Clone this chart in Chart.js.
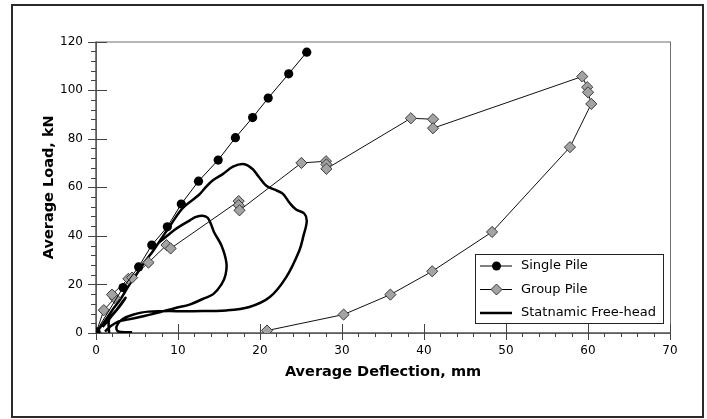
<!DOCTYPE html>
<html>
<head>
<meta charset="utf-8">
<script src="https://cdn.jsdelivr.net/npm/chart.js@4.4.1/dist/chart.umd.min.js"></script>
<style>
  html, body { margin: 0; padding: 0; background: #fff; }
</style>
</head>
<body>
<canvas id="chart" width="707" height="419"></canvas>
<script>
// ── Data ─────────────────────────────────────────────────────
const xTicks = [0, 10, 20, 30, 40, 50, 60, 70];
const yTicks = [0, 20, 40, 60, 80, 100, 120];

const singleX = [0, 3.3, 5.2, 6.8, 8.7, 10.4, 12.5, 14.9, 17.0, 19.1, 21.0, 23.5, 25.7];
const singleY = [0.5, 18.7, 27.2, 36.2, 43.7, 53.1, 62.5, 71.2, 80.4, 88.7, 96.7, 106.7, 115.6];

const groupX = [0, 0.95, 2.3, 1.95, 3.95, 4.4, 6.4, 8.6, 9.1, 17.4, 17.4, 17.5, 25.05, 28.05, 28.1, 28.1,
                38.4, 41.1, 41.1, 59.3, 59.9, 60.0, 60.4, 57.8, 48.3, 41.0, 35.9, 30.2, 20.85];
const groupY = [0, 9.4, 14.4, 15.8, 22.3, 22.8, 29.0, 36.2, 34.8, 54.3, 52.6, 50.5, 70.0, 70.7, 69.4, 67.6,
                88.4, 88.0, 84.3, 105.6, 101.2, 99.1, 94.3, 76.5, 41.6, 25.4, 15.8, 7.6, 1.0];

// statnamic trace, null = pen up between the three pieces
const statX = [1.6, 1.6, 2.5, 3.6, 2.9, 1.8, 0.8, null,
  0, 1, 2, 3, 4, 5, 6, 7, 7.8, 9.2, 10.6, 12.6, 13.5, 14.3, 15.5, 16.7, 18.1, 19.1, 19.8, 20.8, 22.0, 22.8,
  23.6, 24.4, 25.4, 25.7, 25.3, 24.8, 23.2, 21.2, 18.7, 15.9, 11.8, 6.4, 4.4, 3.1, 2.5, 2.7, 4.4, null,
  7.6, 8.5, 9.6, 10.5, 11.5, 12.2, 13.0, 13.6, 14.0, 14.4, 15.3, 15.9, 15.8, 15.3, 14.3, 13.0, 11.5, 9.6,
  7.5, 5.6, 4.0, 2.7, 1.7, 1.1];
const statY = [0, 5.5, 9.5, 14.5, 11, 6.5, 2.5, null,
  0, 4.5, 9.5, 14, 19.5, 24.5, 29.5, 34, 38, 45, 51.5, 57, 60.5, 63, 65.5, 68.5, 69.5, 67.5, 64.5, 60.5, 58.7, 57.3,
  53.6, 50.8, 49.2, 46, 40, 34, 23, 14.8, 10.7, 9.3, 9.0, 8.8, 7.4, 5.4, 2.6, 0.6, 0.3, null,
  37, 39.5, 42.5, 44.5, 46.5, 47.8, 48.3, 47.5, 45, 41.5, 36, 29, 24, 20, 16, 14, 11.8, 10.2,
  8.3, 6.8, 5.6, 4.7, 2.6, 0.6];

const seriesNames = ['Single Pile', 'Group Pile', 'Statnamic Free-head'];

const pts = (xs, ys) => xs.map((x, i) => ({ x: x, y: x === null ? null : ys[i] }));

// ── Styles ───────────────────────────────────────────────────
const FONT = 'DejaVu Sans';
const diamondFill = '#a3a3a3';
const diamondEdge = '#3a3a3a';

// ── Frame, plot box and tick marks ───────────────────────────
const decor = {
  id: 'decor',
  beforeDatasetsDraw(chart) {
    const { ctx, chartArea: a, scales: { x, y } } = chart;
    ctx.save();
    // outer frame
    ctx.strokeStyle = '#2a2a2a';
    ctx.lineWidth = 2;
    ctx.strokeRect(12, 5, 691, 412);
    // plot box
    ctx.strokeStyle = '#707070';
    ctx.lineWidth = 1;
    ctx.strokeRect(a.left + 0.5, a.top + 0.5, a.right - a.left, a.bottom - a.top);
    ctx.strokeStyle = '#555';
    ctx.lineWidth = 1.5;
    ctx.beginPath();
    ctx.moveTo(a.left, a.top); ctx.lineTo(a.left, a.bottom); ctx.lineTo(a.right, a.bottom);
    ctx.stroke();

    ctx.lineWidth = 1;
    ctx.strokeStyle = '#444';
    ctx.beginPath();
    for (let v = 0; v <= 70; v += 2) {
      const px = Math.round(x.getPixelForValue(v)) + 0.5;
      const major = v % 10 === 0;
      ctx.moveTo(px, major ? a.bottom - 9 : a.bottom);
      ctx.lineTo(px, a.bottom + (major ? 7 : 4));
    }
    for (let v = 0; v <= 120; v += 4) {
      const py = Math.round(y.getPixelForValue(v)) + 0.5;
      const major = v % 20 === 0;
      ctx.moveTo(a.left - (major ? 8 : 5), py);
      ctx.lineTo(a.left + (major ? 11 : 0), py);
    }
    ctx.stroke();
    ctx.restore();
  }
};

// ── Boxed legend inside the plot ─────────────────────────────
const boxLegend = {
  id: 'boxLegend',
  afterDatasetsDraw(chart) {
    const { ctx } = chart;
    ctx.save();
    ctx.fillStyle = '#fff';
    ctx.fillRect(475, 254, 188, 69);
    ctx.strokeStyle = '#222';
    ctx.lineWidth = 1;
    ctx.strokeRect(475.5, 254.5, 188, 69);

    const rows = [266, 289.5, 313];
    rows.forEach((ry, i) => {
      ctx.strokeStyle = '#000';
      ctx.lineWidth = i === 2 ? 2.5 : 1;
      ctx.beginPath(); ctx.moveTo(480, ry); ctx.lineTo(512, ry); ctx.stroke();
      if (i === 0) {
        ctx.fillStyle = '#000';
        ctx.beginPath(); ctx.arc(496.5, ry, 4.5, 0, Math.PI * 2); ctx.fill();
      } else if (i === 1) {
        ctx.fillStyle = diamondFill; ctx.strokeStyle = diamondEdge;
        ctx.beginPath();
        ctx.moveTo(496.5, ry - 5.5); ctx.lineTo(502, ry); ctx.lineTo(496.5, ry + 5.5); ctx.lineTo(491, ry);
        ctx.closePath(); ctx.fill(); ctx.stroke();
      }
      ctx.fillStyle = '#000';
      ctx.font = '13px "' + FONT + '"';
      ctx.textBaseline = 'middle';
      ctx.textAlign = 'left';
      ctx.fillText(seriesNames[i], 521, ry);
    });
    ctx.restore();
  }
};

new Chart(document.getElementById('chart'), {
  type: 'scatter',
  data: {
    datasets: [
      {
        label: seriesNames[0],
        data: pts(singleX, singleY),
        showLine: true,
        borderColor: '#000', borderWidth: 1,
        pointStyle: 'circle', pointRadius: 4.6,
        pointBackgroundColor: '#000', pointBorderColor: '#000', pointBorderWidth: 0,
        tension: 0
      },
      {
        label: seriesNames[1],
        data: pts(groupX, groupY),
        showLine: true,
        borderColor: '#111', borderWidth: 1,
        pointStyle: 'rectRot', pointRadius: 5.6,
        pointBackgroundColor: diamondFill, pointBorderColor: diamondEdge, pointBorderWidth: 1,
        tension: 0
      },
      {
        label: seriesNames[2],
        data: pts(statX, statY),
        showLine: true,
        spanGaps: false,
        borderColor: '#000', borderWidth: 2.5,
        pointRadius: 0,
        tension: 0.35
      }
    ]
  },
  options: {
    responsive: false,
    devicePixelRatio: 1,
    animation: false,
    layout: { padding: { left: 0, top: 41.5, right: 37, bottom: 0 } },
    plugins: { legend: { display: false }, tooltip: { enabled: false } },
    scales: {
      x: {
        type: 'linear', min: 0, max: 70,
        afterBuildTicks: s => { s.ticks = xTicks.map(v => ({ value: v })); },
        afterFit: s => { s.height = 86; },
        grid: { display: false, drawTicks: false },
        border: { display: false },
        ticks: { color: '#000', padding: 11, font: { family: FONT, size: 12 } },
        title: {
          display: true, text: 'Average Deflection, mm', color: '#000',
          font: { family: FONT, size: 14.5, weight: 'bold' },
          padding: { top: 0, bottom: 38 }
        }
      },
      y: {
        type: 'linear', min: 0, max: 120,
        afterBuildTicks: s => { s.ticks = yTicks.map(v => ({ value: v })); },
        afterFit: s => { s.width = 96; },
        grid: { display: false, drawTicks: false },
        border: { display: false },
        ticks: { color: '#000', padding: 13, font: { family: FONT, size: 12 } },
        title: {
          display: true, text: 'Average Load, kN', color: '#000',
          font: { family: FONT, size: 14.5, weight: 'bold' },
          padding: { top: 41, bottom: 0 }
        }
      }
    }
  },
  plugins: [decor, boxLegend]
});
</script>
</body>
</html>
